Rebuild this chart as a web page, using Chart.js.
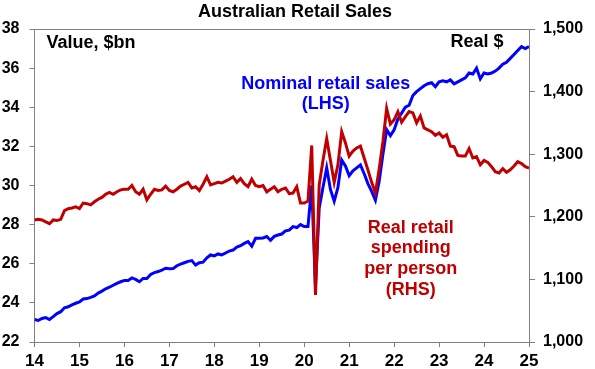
<!DOCTYPE html>
<html>
<head>
<meta charset="utf-8">
<script src="https://cdn.jsdelivr.net/npm/chart.js@4/dist/chart.umd.min.js"></script>
<style>
  html, body { margin: 0; padding: 0; background: #ffffff; }
  #wrap { width: 595px; height: 369px; }
</style>
</head>
<body>
<div id="wrap"><canvas id="c" width="595" height="369"></canvas></div>
<script>
// ---- Data (monthly, Jan 2014 .. Jan 2025) ----
const startYear = 14;            // x-axis value of first month (2014)
const nominalSales = [           // Nominal retail sales, $bn (LHS)
  23.15, 23.1, 23.2, 23.25, 23.15, 23.3, 23.45, 23.55, 23.75, 23.8, 23.9, 23.98,
  24.05, 24.2, 24.22, 24.28, 24.35, 24.5, 24.6, 24.72, 24.8, 24.9, 25.0, 25.08,
  25.15, 25.15, 25.28, 25.2, 25.08, 25.25, 25.25, 25.45, 25.55, 25.6, 25.68, 25.77,
  25.74, 25.75, 25.9, 25.98, 26.05, 26.12, 26.16, 25.93, 26.05, 26.08, 26.3, 26.45,
  26.4, 26.5, 26.45, 26.55, 26.65, 26.7, 26.85, 26.92, 27.04, 27.13, 26.9, 27.3,
  27.3, 27.32, 27.39, 27.2, 27.4, 27.47, 27.52, 27.68, 27.72, 27.9, 27.85, 28.0,
  27.9, 27.9, 30.0, 24.8, 28.85, 29.9, 30.9, 29.8, 29.2, 29.9, 31.3, 31.0,
  30.5, 30.75, 30.9, 31.05, 30.6, 30.1, 29.7, 29.25, 30.2, 31.6, 32.85, 32.55,
  32.85, 33.4, 33.7, 34.0, 34.1, 34.6, 34.8, 34.95, 35.1, 35.2, 35.25, 35.05,
  35.3, 35.35, 35.3, 35.4, 35.2, 35.3, 35.4, 35.5, 35.75, 35.7, 36.0, 35.45,
  35.75, 35.7, 35.75, 35.85, 36.0, 36.2, 36.3, 36.5, 36.7, 36.9, 37.1, 37.0,
  37.1
];
const realPerPerson = [          // Real retail spending per person, real $ (RHS)
  1195, 1196, 1195, 1192, 1189, 1195, 1194, 1196, 1210, 1213, 1214, 1216,
  1213, 1222, 1221, 1219, 1224, 1228, 1231, 1236, 1239, 1236, 1240, 1243,
  1244, 1244, 1250, 1240, 1236, 1244, 1227, 1236, 1244, 1242, 1243, 1249,
  1242, 1240, 1244, 1249, 1252, 1255, 1246, 1248, 1242, 1252, 1264, 1251,
  1253, 1255, 1254, 1257, 1260, 1264, 1255, 1261, 1253, 1248, 1260, 1250,
  1248, 1250, 1240, 1244, 1248, 1240, 1244, 1246, 1237, 1238, 1248, 1222,
  1222, 1225, 1314, 1075, 1251, 1290, 1325, 1290, 1255, 1283, 1336, 1318,
  1297, 1305, 1310, 1313, 1294, 1275, 1255, 1238, 1276, 1320, 1373, 1348,
  1355, 1368, 1351, 1360, 1368, 1366, 1350, 1361, 1342, 1339, 1336, 1330,
  1334, 1327, 1331, 1313, 1312, 1298, 1297, 1297, 1309, 1294, 1296, 1283,
  1290, 1287, 1280, 1272, 1270, 1277, 1271, 1275, 1281, 1288, 1285, 1280,
  1278
];
const yearTicks  = [14, 15, 16, 17, 18, 19, 20, 21, 22, 23, 24, 25];
const leftTicks  = [22, 24, 26, 28, 30, 32, 34, 36, 38];
const rightTicks = [1000, 1100, 1200, 1300, 1400, 1500];

const titleText   = 'Australian Retail Sales';
const leftUnit    = 'Value, $bn';
const rightUnit   = 'Real $';
const blueLabel   = ['Nominal retail sales', '(LHS)'];
const redLabel    = ['Real retail', 'spending', 'per person', '(RHS)'];

// ---- Styling ----
const BLUE = '#0000FF';
const RED = '#C00000';
const AXIS = '#808080';
const FONT = '"Liberation Sans", Arial, sans-serif';

const toPoints = arr => arr.map((v, i) => ({ x: startYear + i / 12, y: v }));
const fmtThousands = v => String(v).replace(/\B(?=(\d{3})+(?!\d))/g, ',');
const setTicks = list => axis => { axis.ticks = list.map(v => ({ value: v })); };

const textPlugin = {
  id: 'texts',
  afterDraw(chart) {
    const ctx = chart.ctx;
    const a = chart.chartArea;
    const xs = chart.scales.x, yl = chart.scales.yL;
    ctx.save();
    // top border of plot area
    ctx.strokeStyle = AXIS;
    ctx.lineWidth = 1;
    ctx.beginPath();
    ctx.moveTo(a.left, Math.round(a.top) + 0.5);
    ctx.lineTo(a.right, Math.round(a.top) + 0.5);
    ctx.stroke();

    ctx.textBaseline = 'middle';
    // title
    ctx.fillStyle = '#000';
    ctx.font = 'bold 18px ' + FONT;
    ctx.textAlign = 'center';
    ctx.fillText(titleText, 295, 12.5);
    // unit labels
    ctx.textAlign = 'left';
    ctx.fillText(leftUnit, a.left + 12, a.top + 14);
    ctx.textAlign = 'right';
    ctx.fillText(rightUnit, a.right - 25.5, a.top + 13.5);
    // series labels
    ctx.textAlign = 'center';
    ctx.fillStyle = BLUE;
    const bx = xs.getPixelForValue(20.48);
    const by = yl.getPixelForValue(35.2);
    blueLabel.forEach((t, i) => ctx.fillText(t, bx, by + i * 20.5));
    ctx.fillStyle = RED;
    const rx = xs.getPixelForValue(22.37);
    const ry = yl.getPixelForValue(27.85);
    redLabel.forEach((t, i) => ctx.fillText(t, rx, ry + i * 20.7));
    ctx.restore();
  }
};

new Chart(document.getElementById('c'), {
  type: 'line',
  data: {
    datasets: [
      {
        label: 'Real retail spending per person (RHS)',
        data: toPoints(realPerPerson),
        yAxisID: 'yR',
        borderColor: RED,
        borderWidth: 3,
        pointRadius: 0,
        tension: 0,
        order: 0
      },
      {
        label: 'Nominal retail sales (LHS)',
        data: toPoints(nominalSales),
        yAxisID: 'yL',
        borderColor: BLUE,
        borderWidth: 3,
        pointRadius: 0,
        tension: 0,
        order: 1
      }
    ]
  },
  options: {
    responsive: false,
    animation: false,
    devicePixelRatio: 1,
    layout: { padding: { top: 29, left: 0, right: 0, bottom: 0 } },
    plugins: {
      legend: { display: false },
      title: { display: false },
      tooltip: { enabled: false }
    },
    scales: {
      x: {
        type: 'linear',
        min: 14, max: 25,
        afterBuildTicks: setTicks(yearTicks),
        afterFit: s => { s.height = 27; },
        border: { display: true, color: AXIS, width: 1 },
        grid: { drawOnChartArea: false, drawTicks: true, tickLength: 5, color: AXIS },
        ticks: {
          color: '#000',
          font: { family: FONT, size: 17, weight: 'bold' },
          padding: 4,
          maxRotation: 0,
          autoSkip: false,
          callback: v => String(v)
        }
      },
      yL: {
        type: 'linear',
        position: 'left',
        min: 22, max: 38,
        afterBuildTicks: setTicks(leftTicks),
        afterFit: s => { s.width = 34.5; },
        border: { display: true, color: AXIS, width: 1 },
        grid: { drawOnChartArea: false, drawTicks: true, tickLength: 5, color: AXIS },
        ticks: {
          color: '#000',
          font: { family: FONT, size: 16, weight: 'bold' },
          padding: 10,
          callback: v => String(v)
        }
      },
      yR: {
        type: 'linear',
        position: 'right',
        min: 1000, max: 1500,
        afterBuildTicks: setTicks(rightTicks),
        afterFit: s => { s.width = 66; },
        border: { display: true, color: AXIS, width: 1 },
        grid: { drawOnChartArea: false, drawTicks: true, tickLength: 6, color: AXIS },
        ticks: {
          color: '#000',
          font: { family: FONT, size: 16, weight: 'bold' },
          padding: 8,
          callback: v => fmtThousands(v)
        }
      }
    }
  },
  plugins: [textPlugin]
});
</script>
</body>
</html>
